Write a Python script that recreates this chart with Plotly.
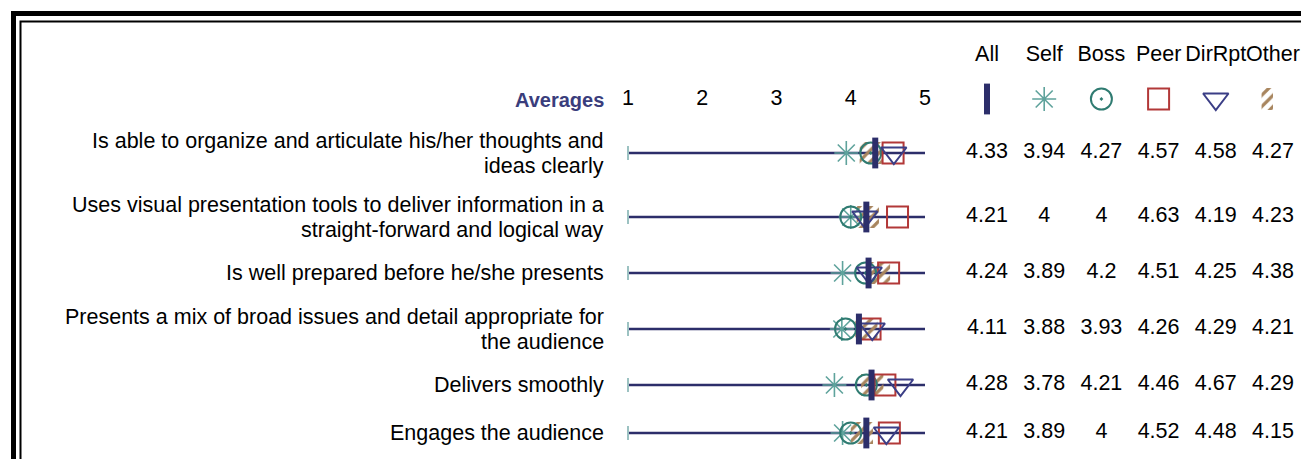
import plotly.graph_objects as go

# data
items = [
    "Is able to organize and articulate his/her thoughts and<br>ideas clearly",
    "Uses visual presentation tools to deliver information in a<br>straight-forward and logical way",
    "Is well prepared before he/she presents",
    "Presents a mix of broad issues and detail appropriate for<br>the audience",
    "Delivers smoothly",
    "Engages the audience",
]
groups = ["All", "Self", "Boss", "Peer", "DirRpt", "Other"]
all_avg = [4.33, 4.21, 4.24, 4.11, 4.28, 4.21]
self_avg = [3.94, 4, 3.89, 3.88, 3.78, 3.89]
boss_avg = [4.27, 4, 4.2, 3.93, 4.21, 4]
peer_avg = [4.57, 4.63, 4.51, 4.26, 4.46, 4.52]
dirrpt_avg = [4.58, 4.19, 4.25, 4.29, 4.67, 4.48]
other_avg = [4.27, 4.23, 4.38, 4.21, 4.29, 4.15]
scale_ticks = [1, 2, 3, 4, 5]

series = [all_avg, self_avg, boss_avg, peer_avg, dirrpt_avg, other_avg]

# page layout (pixels)
W, H = 1309, 459
FONT = "Liberation Sans, Arial, sans-serif"
FS = 21.5
LINE_PX = 25
NAVY = "#2c2e6a"
TEAL_L = "#5fa39c"
TEAL_D = "#2f7b71"
RED = "#b23838"
TRI = "#3b3e86"
TAN = "#a8855e"

# marker styles per group (hatch for Other is drawn as a patterned bar)
styles = {
    "All": dict(symbol="line-ns", size=22, color=NAVY, line=dict(color=NAVY, width=6)),
    "Self": dict(symbol="asterisk-open", size=20, color=TEAL_L, line=dict(color=TEAL_L, width=1.6)),
    "Boss": dict(symbol="circle-open-dot", size=21, color=TEAL_D, line=dict(color=TEAL_D, width=2)),
    "Peer": dict(symbol="square-open", size=21, color=RED, line=dict(color=RED, width=2)),
    "DirRpt": dict(symbol="triangle-down-open", size=22, color=TRI, line=dict(color=TRI, width=2)),
}
HATCH_H = 22
HATCH_W_X = 0.3   # scale units
HATCH_W_X2 = 0.4  # column units
hatch = dict(color="rgba(0,0,0,0)", line=dict(width=0),
             pattern=dict(shape="/", fgcolor=TAN, fgopacity=1, bgcolor="rgba(0,0,0,0)",
                          size=8, solidity=0.4, fillmode="overlay"))

# row centers from the number of text lines in each label
rows_y = []
top = 113
for lab in items:
    n = lab.count("<br>") + 1
    h = 48 + 16 * (n - 1)
    rows_y.append(top + h / 2)
    top += h
SYMBOL_Y = 91
TICK_Y = 92
HEAD_Y = 48

fig = go.Figure()

# scale lines per item
for y in rows_y:
    fig.add_shape(type="line", xref="x", yref="y", x0=scale_ticks[0], x1=scale_ticks[-1] + 0.04,
                  y0=y, y1=y, line=dict(color=NAVY, width=2.5), layer="below")
fig.add_trace(go.Scatter(x=[scale_ticks[0]] * len(rows_y), y=rows_y, mode="markers",
                         marker=dict(symbol="line-ns", size=10, color="#9cc2c2",
                                     line=dict(color="#9cc2c2", width=2)),
                         hoverinfo="skip", cliponaxis=False))

# Other: hatched squares
fig.add_trace(go.Bar(
    orientation="h", y=rows_y, base=[v - HATCH_W_X / 2 for v in other_avg],
    x=[HATCH_W_X] * len(other_avg), width=HATCH_H, marker=hatch, hoverinfo="skip"))

for g in ["Self", "Boss", "Peer", "DirRpt", "All"]:
    vals = series[groups.index(g)]
    fig.add_trace(go.Scatter(x=vals, y=rows_y, mode="markers", marker=styles[g],
                             name=g, cliponaxis=False))

# scale tick labels
fig.add_trace(go.Scatter(x=scale_ticks, y=[TICK_Y] * len(scale_ticks), mode="text",
                         text=[str(t) for t in scale_ticks],
                         textfont=dict(family=FONT, size=FS, color="black"),
                         hoverinfo="skip", cliponaxis=False))

# table on the right: headers, symbols, values
cols = list(range(len(groups)))
fig.add_trace(go.Scatter(x=cols, y=[HEAD_Y] * len(cols), xaxis="x2", mode="text", text=groups,
                         textfont=dict(family=FONT, size=FS, color="black"),
                         hoverinfo="skip", cliponaxis=False))
for i, g in enumerate(groups[:-1]):
    fig.add_trace(go.Scatter(x=[i], y=[SYMBOL_Y], xaxis="x2", mode="markers",
                             marker=styles[g], hoverinfo="skip", cliponaxis=False))
fig.add_trace(go.Bar(
    orientation="h", y=[SYMBOL_Y], base=[cols[-1] - HATCH_W_X2 / 2], x=[HATCH_W_X2],
    width=HATCH_H, xaxis="x2", marker=hatch, hoverinfo="skip"))
for i, vals in enumerate(series):
    fig.add_trace(go.Scatter(x=[i] * len(vals), y=rows_y, xaxis="x2", mode="text",
                             text=[f"{v:g}" for v in vals],
                             textfont=dict(family=FONT, size=FS, color="black"),
                             hoverinfo="skip", cliponaxis=False))

# row labels (one annotation per text line)
LABEL_X = 598 / W
for y, lab in zip(rows_y, items):
    parts = lab.split("<br>")
    n = len(parts)
    for k, p in enumerate(parts):
        fig.add_annotation(x=LABEL_X, xref="paper", y=y, yref="y", text=p, showarrow=False,
                           xanchor="right", yanchor="middle",
                           yshift=((n - 1) / 2 - k) * LINE_PX,
                           font=dict(family=FONT, size=FS, color="black"))
fig.add_annotation(x=LABEL_X, xref="paper", y=TICK_Y, yref="y", text="<b>Averages</b>",
                   showarrow=False, xanchor="right", yanchor="middle",
                   font=dict(family=FONT, size=FS - 1.5, color="#3a3d7c"))

# double frame
fig.add_shape(type="rect", xref="paper", yref="paper", x0=5.5 / W, x1=1.05,
              y0=-0.05, y1=1 - 5.5 / H, line=dict(color="black", width=5), layer="above")
fig.add_shape(type="rect", xref="paper", yref="paper", x0=12.5 / W, x1=1.03,
              y0=1 - 457 / H, y1=1 - 13.5 / H, line=dict(color="black", width=2), layer="above")

fig.update_layout(
    width=W, height=H, margin=dict(l=0, r=0, t=0, b=0),
    paper_bgcolor="white", plot_bgcolor="white", showlegend=False, barmode="overlay",
    font=dict(family=FONT, size=FS, color="black"),
    xaxis=dict(domain=[620 / W, 917 / W], range=[1, 5], visible=False, fixedrange=True),
    xaxis2=dict(domain=[979 / W, 1265 / W], range=[0, 5], anchor="y", visible=False,
                fixedrange=True),
    yaxis=dict(domain=[0, 1], range=[H, 0], visible=False, fixedrange=True),
)

fig.write_html("out.html")
